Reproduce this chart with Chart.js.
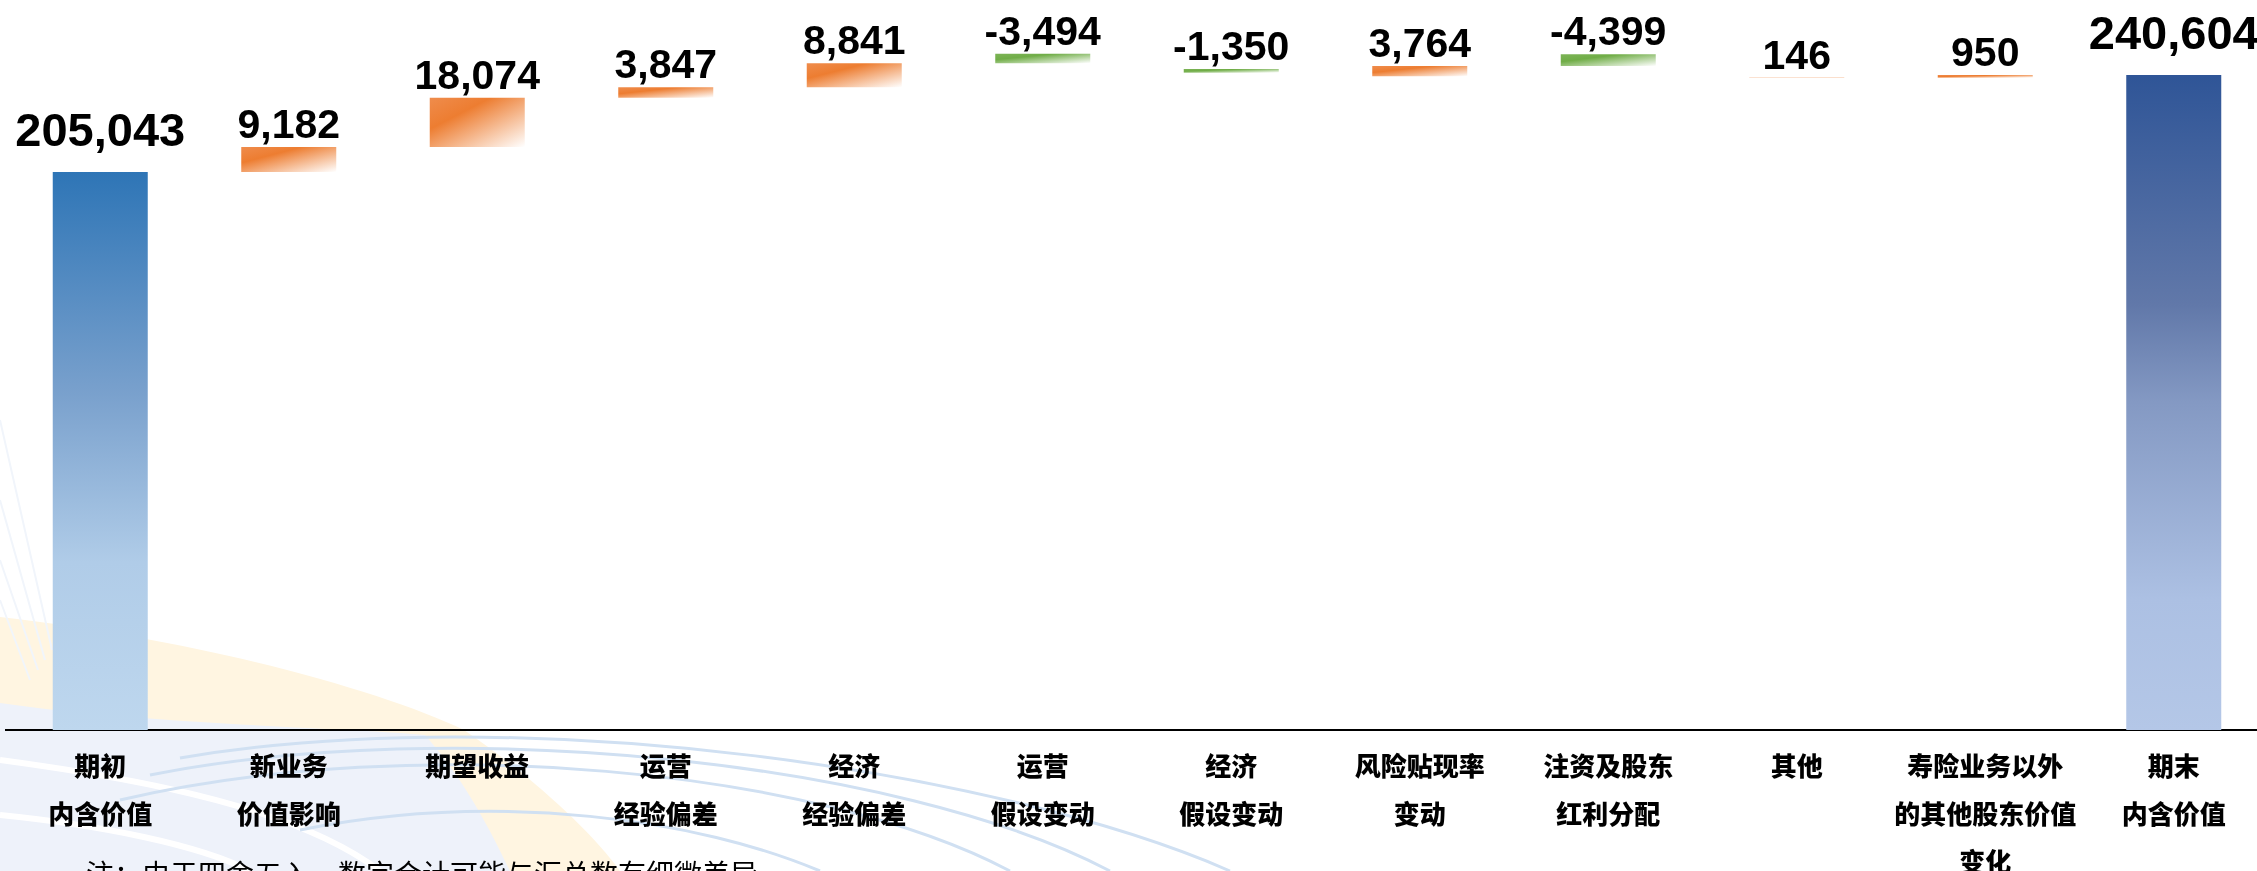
<!DOCTYPE html>
<html lang="zh-CN">

<head>
    <meta charset="UTF-8">
    <script src="https://cdn.jsdelivr.net/npm/chart.js"></script>
    <title>内含价值变动</title>
    <style>
        html, body { margin: 0; padding: 0; width: 2257px; height: 871px; overflow: hidden; background: #fff; }
        #bg { position: absolute; left: 0; top: 0; }
        #wrap { position: absolute; left: 0; top: 0; width: 2268px; height: 871px; }
        #note { position: absolute; left: 86px; top: 859px; font: 28px/1 "Noto Sans CJK SC", sans-serif; color: #000; white-space: nowrap; }
    </style>
</head>

<body>
    <!-- background swoosh, decoration only -->
    <svg id="bg" width="2257" height="871">
        <path d="M0,617 C200,640 380,690 464,730 C530,775 590,830 620,871 L0,871 Z" fill="#FFF5E1"/>
        <path d="M0,703 C150,725 360,728 425,735 C465,780 490,830 510,871 L0,871 Z" fill="#EEF2FA"/>
        <g fill="none" stroke="#FFFFFF" stroke-width="6">
            <path d="M0,760 C150,780 300,810 380,871"/>
            <path d="M0,815 C100,825 200,845 250,871"/>
        </g>
        <g fill="none" stroke="#D0E0F2" stroke-width="3">
            <path d="M120,800 C420,730 820,770 1010,871"/>
            <path d="M150,775 C450,715 900,760 1110,871"/>
            <path d="M180,758 C520,700 1000,770 1230,871"/>
            <path d="M300,830 C500,790 700,820 820,871"/>
        </g>
        <g fill="none" stroke="#F1F5FB" stroke-width="2">
            <path d="M0,420 L52,650"/>
            <path d="M0,500 L45,660"/>
            <path d="M0,560 L38,670"/>
            <path d="M0,600 L30,680"/>
        </g>
    </svg>

    <div id="wrap">
        <canvas id="evChart" width="2268" height="871"></canvas>
    </div>
    <div id="note">注：由于四舍五入，数字合计可能与汇总数有细微差异</div>

    <script>
        // categories (x axis, multi-line)
        const categories = [
            ['期初', '内含价值'],
            ['新业务', '价值影响'],
            ['期望收益'],
            ['运营', '经验偏差'],
            ['经济', '经验偏差'],
            ['运营', '假设变动'],
            ['经济', '假设变动'],
            ['风险贴现率', '变动'],
            ['注资及股东', '红利分配'],
            ['其他'],
            ['寿险业务以外', '的其他股东价值', '变化'],
            ['期末', '内含价值']
        ];

        // value shown over each bar
        const changes = [205043, 9182, 18074, 3847, 8841, -3494, -1350, 3764, -4399, 146, 950, 240604];

        // floating bar ranges as drawn in the picture
        const barLow = [0, 205043, 214225, 232299, 236146, 244987, 241493, 240143, 243907, 239508, 239654, 0];
        const barHigh = [205043, 214225, 232299, 236146, 244987, 248481, 242843, 243907, 248306, 239654, 240604, 240604];

        const yMax = 268200;
        const barShare = 0.504;

        function barFill(context) {
            const chart = context.chart;
            const i = context.dataIndex;
            const xs = chart.scales.x, ys = chart.scales.y;
            const last = changes.length - 1;
            if (i === undefined || !xs || !ys || !chart.chartArea) {
                return '#ED7D31';
            }
            const cx = xs.getPixelForValue(i);
            const half = xs.width / categories.length * barShare / 2;
            const top = ys.getPixelForValue(barHigh[i]);
            const bottom = ys.getPixelForValue(barLow[i]);
            const ctx = chart.ctx;
            let g;
            if (i === 0) {
                g = ctx.createLinearGradient(0, top, 0, bottom);
                g.addColorStop(0, '#2E75B6');
                g.addColorStop(0.4, '#7AA1CD');
                g.addColorStop(0.7, '#B0CCE8');
                g.addColorStop(1, '#BED7EE');
            } else if (i === last) {
                g = ctx.createLinearGradient(0, top, 0, bottom);
                g.addColorStop(0, '#2F5597');
                g.addColorStop(0.35, '#6178A9');
                g.addColorStop(0.5, '#8499C3');
                g.addColorStop(0.8, '#ACC0E3');
                g.addColorStop(1, '#B4C7E7');
            } else {
                // shape-scaled diagonal gradient: colour band near top-left, white at bottom-right
                const base = changes[i] < 0 ? '#70AD47' : '#ED7D31';
                const soft = changes[i] < 0 ? '#7DB457' : '#EF8C4C';
                const w = 2 * half;
                const h = Math.max(bottom - top, 0.5);
                const k = 2 * w * h / (w * w + h * h);
                const x0 = cx - half;
                g = ctx.createLinearGradient(x0, top, x0 + h * k, top + w * k);
                g.addColorStop(0, soft);
                g.addColorStop(0.32, base);
                g.addColorStop(1, '#FFFFFF');
            }
            return g;
        }

        // numbers above the bars
        const valueLabels = {
            id: 'valueLabels',
            afterDatasetsDraw(chart) {
                const ctx = chart.ctx;
                const meta = chart.getDatasetMeta(0);
                const last = changes.length - 1;
                ctx.save();
                ctx.fillStyle = '#000';
                ctx.textAlign = 'center';
                ctx.textBaseline = 'alphabetic';
                meta.data.forEach((bar, i) => {
                    const total = i === 0 || i === last;
                    ctx.font = 'bold ' + (total ? 47 : 41) + 'px "Liberation Sans", Arial, sans-serif';
                    const top = Math.min(bar.y, bar.base);
                    ctx.fillText(changes[i].toLocaleString('en-US'), bar.x, top - (total ? 26 : 9));
                });
                ctx.restore();
            }
        };

        const ctx = document.getElementById('evChart').getContext('2d');
        new Chart(ctx, {
            type: 'bar',
            data: {
                labels: categories,
                datasets: [{
                    data: barLow.map((lo, i) => [lo, barHigh[i]]),
                    backgroundColor: barFill,
                    borderWidth: 0,
                    borderSkipped: false,
                    categoryPercentage: 1,
                    barPercentage: barShare
                }]
            },
            options: {
                responsive: false,
                animation: false,
                layout: { padding: { left: 6, right: 0, top: 0, bottom: 0 } },
                plugins: {
                    legend: { display: false },
                    tooltip: { enabled: false }
                },
                scales: {
                    x: {
                        grid: { display: false, drawTicks: false },
                        border: { display: true, color: '#000', width: 2 },
                        ticks: {
                            color: '#000',
                            padding: 12,
                            maxRotation: 0,
                            autoSkip: false,
                            font: { family: '"Noto Sans CJK SC", sans-serif', size: 26, weight: 900, lineHeight: 48 / 26 }
                        },
                        afterFit: (s) => { s.height = 141; }
                    },
                    y: {
                        display: false,
                        min: 0,
                        max: yMax
                    }
                }
            },
            plugins: [valueLabels]
        });
    </script>
</body>

</html>
